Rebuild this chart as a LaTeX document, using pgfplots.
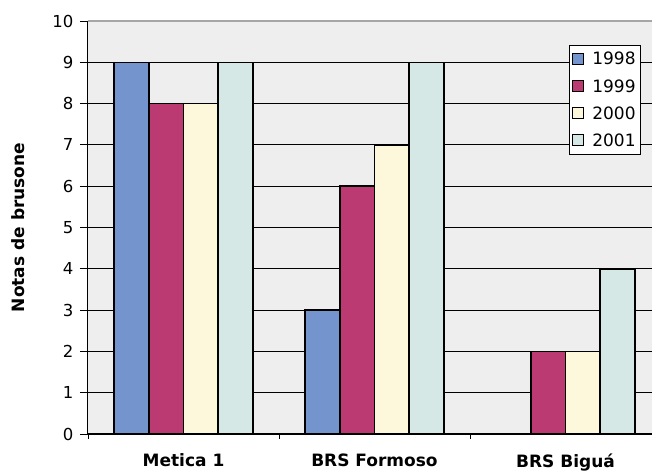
\documentclass[border=0pt]{standalone}
\usepackage{pgfplots}
\pgfplotsset{compat=1.18}
\usepackage{fontspec}
\setmainfont{DejaVu Sans}

\definecolor{cA}{RGB}{115,148,204}
\definecolor{cB}{RGB}{188,58,114}
\definecolor{cC}{RGB}{253,248,220}
\definecolor{cD}{RGB}{213,232,230}
\definecolor{bg}{RGB}{238,238,238}

\begin{document}
\begin{tikzpicture}
\begin{axis}[
  scale only axis,
  width=564pt, height=413pt,
  xmin=-0.5, xmax=2.453,
  ymin=0, ymax=10,
  ybar=0pt,
  bar width=34.7pt,
  axis background/.style={fill=bg},
  axis x line*=bottom,
  axis y line*=left,
  axis line style={black, line width=1pt},
  /pgf/number format/assume math mode=true,
  ytick={0,...,9},
  extra y ticks={10},
  extra y tick style={grid style={gray!70, line width=1.2pt}},
  ymajorgrids,
  grid style={black, line width=0.8pt},
  major tick length=8pt,
  tick align=outside,
  ytick style={black, line width=0.8pt},
  yticklabel style={font=\fontsize{16.5}{19}\selectfont, xshift=-3pt},
  xtick={-0.5,0.5,1.5},
  xticklabels={},
  xtick style={black, line width=0.8pt},
  x tick style={/pgfplots/major tick length=5pt},
  extra x ticks={0,1,2},
  extra x tick labels={Metica 1, BRS Formoso, BRS Biguá},
  extra x tick style={tick style={draw=none},
    xticklabel style={font=\fontsize{17}{20}\selectfont\bfseries, yshift=-8pt}},
  ylabel={Notas de brusone},
  every axis y label/.style={at={(axis description cs:-0.124,0.5)}, anchor=center,
    rotate=90, font=\fontsize{17}{20}\selectfont\bfseries},
  every axis plot/.append style={draw=black, line width=1.5pt},
  legend style={at={(0.9805,0.942)}, anchor=north east,
    draw=black, line width=0.8pt, fill=white,
    font=\fontsize{17}{20}\selectfont,
    row sep=9pt, inner xsep=3pt, inner ysep=5pt,
    cells={anchor=west}},
  legend image code/.code={\draw[#1, line width=0.8pt] (0pt,-5pt) rectangle (11pt,6pt);
    \path (17pt,0pt);},
]
\addplot[fill=cA] coordinates {(0,9) (1,3) (2,0)};
\addplot[fill=cB] coordinates {(0,8) (1,6) (2,2)};
\addplot[fill=cC] coordinates {(0,8) (1,7) (2,2)};
\addplot[fill=cD] coordinates {(0,9) (1,9) (2,4)};
\legend{1998,1999,2000,2001}
\end{axis}
\pgfresetboundingbox
\path ([shift={(-88pt,-37pt)}]current axis.south west) rectangle ([shift={(0pt,21pt)}]current axis.north east);
\end{tikzpicture}
\end{document}
